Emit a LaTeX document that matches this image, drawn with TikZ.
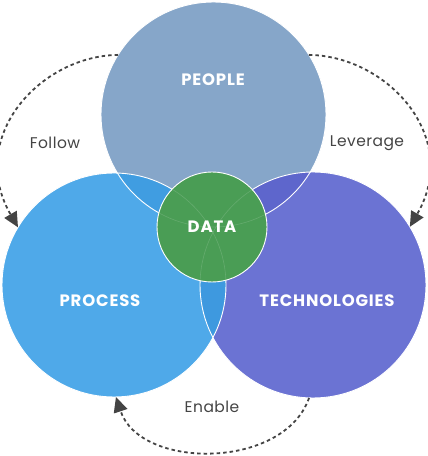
\documentclass[tikz,border=0pt]{standalone}
\usepackage{fontspec}
\setmainfont{Poppins}
\newfontfamily\titlefont[LetterSpace=5]{Poppins}
\newfontfamily\verbfont[LetterSpace=3]{Poppins}
\usetikzlibrary{arrows.meta}

\definecolor{peoplecol}{HTML}{86A6C9}
\definecolor{processcol}{HTML}{4FA9E9}
\definecolor{techcol}{HTML}{6B73D3}
\definecolor{datacol}{HTML}{4A9D55}
\definecolor{peoproc}{HTML}{409DE1}
\definecolor{peotech}{HTML}{5E66CC}
\definecolor{proctech}{HTML}{3E99DF}
\definecolor{arrowcol}{HTML}{444444}

\tikzset{
  venn/.style={circle, inner sep=0pt, outer sep=0pt},
  rim/.style={draw=white, line width=0.9pt},
  title/.style={font=\titlefont\bfseries\fontsize{16.5}{18}\selectfont, text=white},
  verb/.style={font=\verbfont\fontsize{15.5}{18}\selectfont, text=arrowcol},
  flow/.style={draw=arrowcol, line width=1.8pt, dash pattern=on 3.5pt off 3pt,
    -{Triangle[length=15pt,width=14pt]}},
}

\begin{document}
\begin{tikzpicture}[x=1pt,y=1pt]
\useasboundingbox (0,0) rectangle (428,456);

% the three sets
\node[venn, fill=peoplecol, minimum size=225pt] (people) at (213.5,341.5) {};
\node[venn, fill=processcol, minimum size=224pt] (process) at (114,171) {};
\node[venn, fill=techcol, minimum size=226pt] (tech) at (313,171) {};

% overlaps
\begin{scope}
  \clip (people.center) circle (112.5);
  \fill[peoproc] (process.center) circle (112);
\end{scope}
\begin{scope}
  \clip (people.center) circle (112.5);
  \fill[peotech] (tech.center) circle (113);
\end{scope}
\begin{scope}
  \clip (process.center) circle (112);
  \fill[proctech] (tech.center) circle (113);
\end{scope}

% white rims
\draw[rim] (people.center) circle (112.5);
\draw[rim] (process.center) circle (112);
\draw[rim] (tech.center) circle (113);

% centre
\node[venn, fill=datacol, minimum size=110pt, rim, title] (data) at (212,229) {DATA};
\begin{scope}
  \clip (data.center) circle (54);
  \draw[white, opacity=0.15, line width=0.6pt] (people.center) circle (112.5);
  \draw[white, opacity=0.15, line width=0.6pt] (process.center) circle (112);
  \draw[white, opacity=0.15, line width=0.6pt] (tech.center) circle (113);
\end{scope}

% labels
\node[title] (peoplelbl) at (213,376) {PEOPLE};
\node[title] (processlbl) at (100,155) {PROCESS};
\node[title] (techlbl) at (327,155) {TECHNOLOGIES};

% arrows
\draw[flow] (people.148) .. controls +(-78,-1) and +(-52,90) .. (process.149);
\draw[flow] (people.32) .. controls +(78,-1) and +(52,90) .. (tech.31);
\draw[flow] (tech.268) .. controls +(-25,-72) and +(24,-73) .. (process.271);

\node[verb] (follow) at (55,313) {Follow};
\node[verb] (leverage) at (367,313) {Leverage};
\node[verb] (enable) at (212,49) {Enable};

\end{tikzpicture}
\end{document}
